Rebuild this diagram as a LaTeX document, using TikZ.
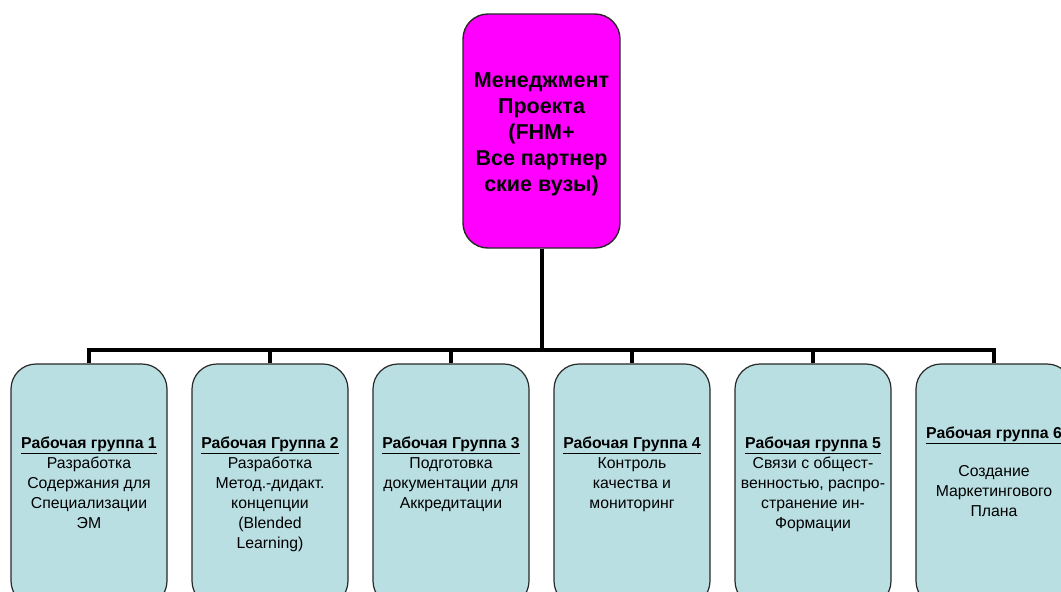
\documentclass[tikz,border=0pt]{standalone}
\usepackage{fontspec}
\setmainfont{Liberation Sans}
\definecolor{topfill}{RGB}{255,0,255}
\definecolor{grpfill}{RGB}{185,223,227}
\definecolor{edge}{RGB}{40,40,40}
\begin{document}
\begin{tikzpicture}[x=1pt,y=-1pt,
  topbox/.style={draw=edge,line width=1.4pt,fill=topfill,rounded corners=25pt,minimum width=157pt,minimum height=234pt,inner sep=0pt},
  toptext/.style={inner sep=0pt,font=\fontsize{21.5}{26}\selectfont\bfseries,align=center},
  grpbox/.style={draw=edge,line width=1.2pt,fill=grpfill,rounded corners=25pt,minimum width=156pt,minimum height=242pt,inner sep=0pt},
  grptext/.style={anchor=north,inner sep=0pt,align=center,font=\fontsize{15.8}{20}\selectfont},
  conn/.style={line width=4pt,black}
]
\useasboundingbox (0,0) rectangle (1061,592);
\clip (0,0) rectangle (1061,592);
\node[topbox] (top) at (541.5,131) {};
\node[toptext] (toplabel) at ([yshift=-3pt]top.center) {Менеджмент\\Проекта\\(FHM+\\Все партнер\\ские вузы)};
\coordinate (bar) at (541.5,350);
\foreach \i/\x in {1/89,2/270,3/451,4/632,5/813,6/994}{
  \node[grpbox] (g\i) at (\x,485) {};
}
\draw[conn] (top.south) -- (bar);
\foreach \i in {1,...,6}{
  \draw[conn] (g\i.north) |- (bar);
}
\node[grptext] (t1) at ([yshift=-73pt]g1.north) {\textbf{\underline{Рабочая группа 1}}\\Разработка\\Содержания для\\Специализации\\ЭМ};
\node[grptext] (t2) at ([yshift=-73pt]g2.north) {\textbf{\underline{Рабочая Группа 2}}\\Разработка\\Метод.-дидакт.\\концепции\\(Blended\\Learning)};
\node[grptext] (t3) at ([yshift=-73pt]g3.north) {\textbf{\underline{Рабочая Группа 3}}\\Подготовка\\документации для\\Аккредитации};
\node[grptext] (t4) at ([yshift=-73pt]g4.north) {\textbf{\underline{Рабочая Группа 4}}\\Контроль\\качества и\\мониторинг};
\node[grptext] (t5) at ([yshift=-73pt]g5.north) {\textbf{\underline{Рабочая группа 5}}\\Связи с общест-\\венностью, распро-\\странение ин-\\Формации};
\node[grptext] (t6) at ([yshift=-63pt]g6.north) {\textbf{\underline{Рабочая группа 6}}\\[18pt]Создание\\Маркетингового\\Плана};
\end{tikzpicture}
\end{document}
